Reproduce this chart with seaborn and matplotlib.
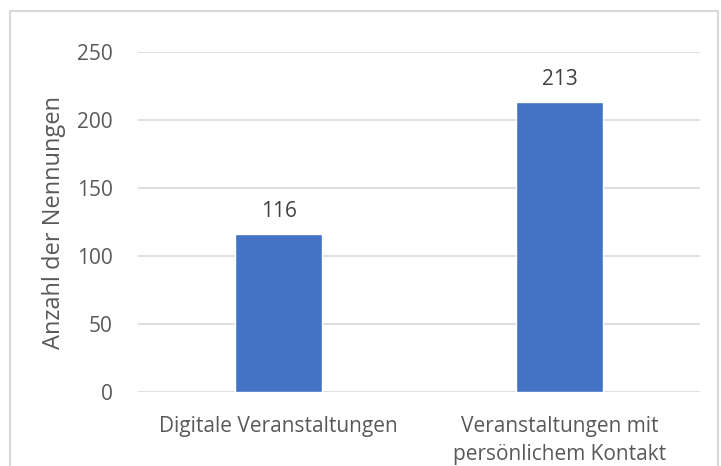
import matplotlib
matplotlib.use("Agg")
import matplotlib.pyplot as plt
import seaborn as sns
import pandas as pd
from matplotlib.patches import Rectangle

categories = ["Digitale Veranstaltungen", "Veranstaltungen mit\npersönlichem Kontakt"]
values = [116, 213]
yticks = [0, 50, 100, 150, 200, 250]

sns.set_style("white")
plt.rcParams["font.family"] = ["Open Sans", "DejaVu Sans"]

df = pd.DataFrame({"cat": categories, "n": values})

fig = plt.figure(figsize=(7.21, 4.66), dpi=100)
ax = fig.add_axes([0.1914, 0.1588, 0.7795, 0.7296])

sns.barplot(data=df, x="cat", y="n", color="#4472C4", saturation=1, width=0.313, ax=ax, zorder=3)

ax.set_ylim(0, 250)
ax.set_yticks(yticks)
ax.yaxis.grid(True, color="#D9D9D9", linewidth=1.2, zorder=0)
ax.set_axisbelow(True)
for s in ["top", "right", "left", "bottom"]:
    ax.spines[s].set_visible(False)
ax.tick_params(axis="x", length=0, labelsize=15, colors="#595959", pad=17)
ax.tick_params(axis="y", length=0, labelsize=15, colors="#595959", pad=18)
for lbl in ax.get_xticklabels():
    lbl.set_linespacing(1.45)
ax.set_xlabel("")
ax.set_ylabel("Anzahl der Nennungen", fontsize=17, color="#595959", labelpad=8)

for c in ax.containers:
    ax.bar_label(c, fmt="%d", padding=9, fontsize=15, color="#404040")

fig.patches.append(Rectangle((10 / 721, -0.1), 708 / 721, 1 - 11 / 466 + 0.1,
                             transform=fig.transFigure, fill=False,
                             edgecolor="#D9D9D9", linewidth=1.5))

fig.savefig("out.png", dpi=100)
